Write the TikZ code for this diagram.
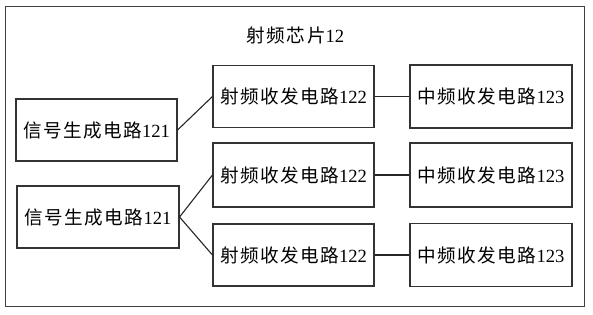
\documentclass[tikz,border=0pt]{standalone}
\usepackage{fontspec}
\setmainfont{Liberation Serif}
\newfontfamily\cjk[LetterSpace=8]{Noto Sans CJK SC}
\newcommand{\cj}[1]{{\cjk #1}}
\begin{document}
\begin{tikzpicture}[x=1pt,y=-1pt,
  box/.style={draw=black!80, line width=1.1pt, minimum height=62pt, inner sep=0pt, font=\fontsize{18.6}{20}\selectfont},
  link/.style={draw=black!85, line width=1.1pt}]
\useasboundingbox (0,0) rectangle (593,314);
\draw[black!75, line width=1pt] (5,6) rectangle (584,306);
\node[font=\fontsize{18.6}{20}\selectfont] (title) at (295.5,35) {\cj{射频芯片}12};
\node[box, minimum width=161pt] (sg1) at (96.5,130) {\cj{信号生成电路}121};
\node[box, minimum width=162pt] (sg2) at (98,217) {\cj{信号生成电路}121};
\node[box, minimum width=161pt] (rf1) at (293.5,96.5) {\cj{射频收发电路}122};
\node[box, minimum width=161pt, minimum height=64pt] (rf2) at (293.5,175) {\cj{射频收发电路}122};
\node[box, minimum width=161pt] (rf3) at (293.5,255) {\cj{射频收发电路}122};
\node[box, minimum width=162pt, minimum height=63pt] (if1) at (491,96.5) {\cj{中频收发电路}123};
\node[box, minimum width=162pt, minimum height=64pt] (if2) at (491,175) {\cj{中频收发电路}123};
\node[box, minimum width=162pt, minimum height=63pt] (if3) at (491,255) {\cj{中频收发电路}123};
\draw[link] (sg1.east) -- (rf1.west);
\draw[link] (sg2.east) -- (rf2.west);
\draw[link] (sg2.east) -- (rf3.west);
\draw[link] (rf1.east) -- (if1.west);
\draw[link] (rf2.east) -- (if2.west);
\draw[link] (rf3.east) -- (if3.west);
\end{tikzpicture}
\end{document}
